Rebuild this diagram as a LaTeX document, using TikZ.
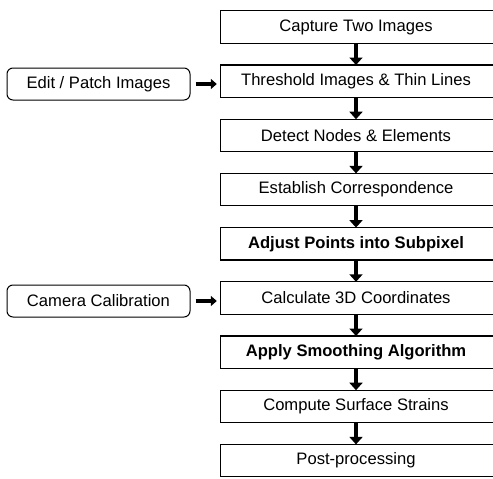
\documentclass[tikz,border=0pt]{standalone}
\usepackage{fontspec}
\setmainfont{Liberation Sans}
\usetikzlibrary{arrows.meta}
\begin{document}
\begin{tikzpicture}[x=1pt,y=-1pt,
  every node/.style={font=\fontsize{16.6}{18}\selectfont},
  stepbox/.style={minimum width=270pt,minimum height=32pt,inner sep=0pt},
  sidebox/.style={draw,line width=1pt,rounded corners=6pt,minimum width=183pt,minimum height=32pt,inner sep=0pt},
  flow/.style={line width=4.5pt,-{Triangle[width=13pt,length=7.5pt]}},
  feed/.style={line width=4pt,-{Triangle[width=10pt,length=6pt]},shorten <=5pt,shorten >=4pt}]
\useasboundingbox (0,0) rectangle (493,479);
\clip (0,0) rectangle (493,479);

% main processing column
\foreach \n/\t [count=\i from 0] in {
  s1/{Capture Two Images},
  s2/{Threshold Images \& Thin Lines},
  s3/{Detect Nodes \& Elements},
  s4/{Establish Correspondence},
  s5/{\bfseries Adjust Points into Subpixel},
  s6/{Calculate 3D Coordinates},
  s7/{\bfseries Apply Smoothing Algorithm},
  s8/{Compute Surface Strains},
  s9/{Post-processing}}
{
  \node[stepbox] (\n) at (356,27+54.2*\i) {\t};
  \draw[line width=1.3pt] (\n.south west) rectangle ([xshift=20pt]\n.north east);
}

% arrows between the steps
\foreach \a/\b in {s1/s2,s2/s3,s3/s4,s4/s5,s5/s6,s6/s7,s7/s8,s8/s9}
  \draw[flow] (\a.south) -- (\b.north);

% side inputs
\node[sidebox] (edit) at (98.5,84) {Edit / Patch Images};
\node[sidebox] (cal) at (98.5,301) {Camera Calibration};
\draw[feed] (edit.east) -- (edit.east -| s2.west);
\draw[feed] (cal.east) -- (cal.east -| s6.west);
\end{tikzpicture}
\end{document}
